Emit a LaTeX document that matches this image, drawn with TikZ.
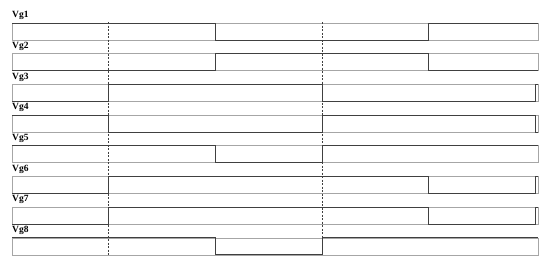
\documentclass[tikz,border=0pt]{standalone}
\usepackage{fontspec}
\setmainfont{Liberation Serif}
\begin{document}
\begin{tikzpicture}[x=1pt,y=-1pt,
  framebox/.style={draw=black!35, line width=0.7pt},
  wave/.style={draw=black!75, line width=0.9pt, line join=miter},
  lab/.style={anchor=base west, inner sep=0pt, font=\fontsize{9.5}{10}\selectfont\bfseries},
  guide/.style={draw=black!75, line width=0.6pt, dash pattern=on 2pt off 1.5pt}]
\useasboundingbox (0,0) rectangle (550,265);
\def\L{12}\def\A{108}\def\B{215}\def\C{322}\def\D{428}\def\E{535.5}\def\R{538}
\def\T{23}\def\Bt{40}
% frames and labels
\foreach \k in {1,...,8}{
  \begin{scope}[yshift={-30.7pt*(\k-1)}]
    \draw[framebox] (\L,\T) rectangle (\R,\Bt);
    \node[lab] (lab\k) at (\L,17.6) {Vg\k};
  \end{scope}
}
% Vg1
\begin{scope}[yshift={-30.7pt*0}]
\draw[wave] (\L,\T) -- (\B,\T) -- (\B,\Bt) -- (\D,\Bt) -- (\D,\T) -- (\R,\T);
\end{scope}
% Vg2
\begin{scope}[yshift={-30.7pt*1}]
\draw[wave] (\L,\Bt) -- (\B,\Bt) -- (\B,\T) -- (\D,\T) -- (\D,\Bt) -- (\R,\Bt);
\end{scope}
% Vg3
\begin{scope}[yshift={-30.7pt*2}]
\draw[wave] (\L,\Bt) -- (\A,\Bt) -- (\A,\T) -- (\C,\T) -- (\C,\Bt) -- (\E,\Bt) -- (\E,\T) -- (\R,\T);
\end{scope}
% Vg4
\begin{scope}[yshift={-30.7pt*3}]
\draw[wave] (\L,\T) -- (\A,\T) -- (\A,\Bt) -- (\C,\Bt) -- (\C,\T) -- (\E,\T) -- (\E,\Bt) -- (\R,\Bt);
\end{scope}
% Vg5
\begin{scope}[yshift={-30.7pt*4}]
\draw[wave] (\L,\T) -- (\B,\T) -- (\B,\Bt) -- (\C,\Bt) -- (\C,\T) -- (\R,\T);
\end{scope}
% Vg6
\begin{scope}[yshift={-30.7pt*5}]
\draw[wave] (\L,\Bt) -- (\A,\Bt) -- (\A,\T) -- (\D,\T) -- (\D,\Bt) -- (\E,\Bt) -- (\E,\T) -- (\R,\T);
\end{scope}
% Vg7
\begin{scope}[yshift={-30.7pt*6}]
\draw[wave] (\L,\Bt) -- (\A,\Bt) -- (\A,\T) -- (\D,\T) -- (\D,\Bt) -- (\E,\Bt) -- (\E,\T) -- (\R,\T);
\end{scope}
% Vg8
\begin{scope}[yshift={-30.7pt*7}]
\draw[wave] (\L,\T) -- (\B,\T) -- (\B,\Bt) -- (\C,\Bt) -- (\C,\T) -- (\R,\T);
\end{scope}
% dashed guides
\coordinate (g1top) at (\A,22);
\coordinate (g1bot) at (\A,256);
\coordinate (g2top) at (\C,22);
\coordinate (g2bot) at (\C,256);
\draw[guide] (g1top) -- (g1bot);
\draw[guide] (g2top) -- (g2bot);
\end{tikzpicture}
\end{document}
